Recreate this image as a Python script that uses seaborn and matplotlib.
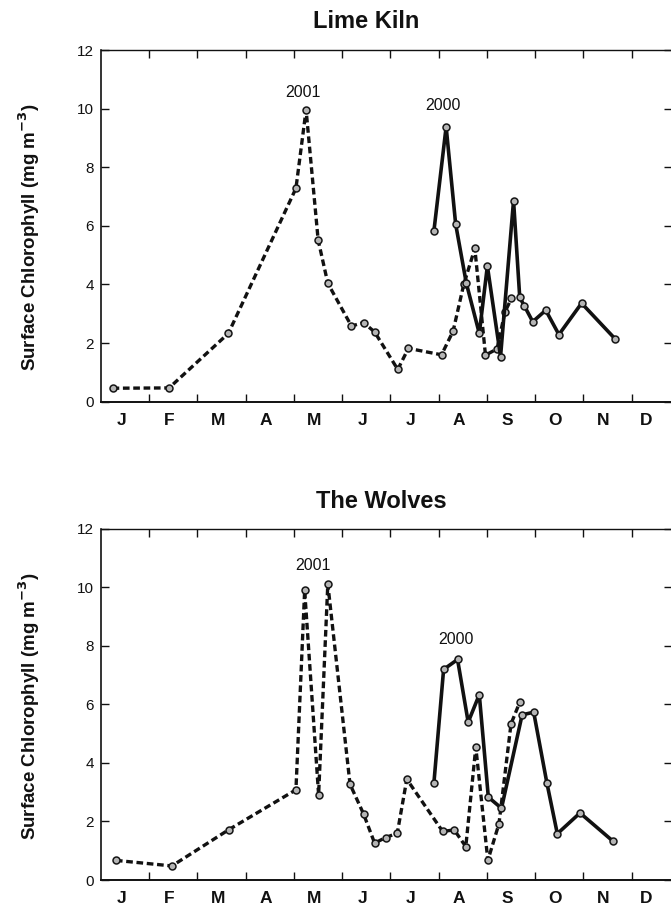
import matplotlib
matplotlib.use("Agg")
import matplotlib.pyplot as plt
import seaborn as sns
import pandas as pd

# ---- data: surface chlorophyll (mg m^-3) by day of year ----
MONTH_LABELS = ["J", "F", "M", "A", "M", "J", "J", "A", "S", "O", "N", "D"]

# Lime Kiln, 2001 season
lk_2001_day = [7.3, 42.9, 80.3, 122.9, 129.3, 136.9, 143.0, 157.9, 165.5, 172.5,
               187.1, 193.8, 214.7, 222.0, 228.7, 235.7, 242.4, 249.7, 254.6, 258.8]
lk_2001_chl = [0.46, 0.47, 2.33, 7.28, 9.96, 5.52, 4.04, 2.58, 2.70, 2.38,
               1.10, 1.82, 1.60, 2.41, 4.00, 5.23, 1.59, 1.80, 3.05, 3.53]

# Lime Kiln, 2000 season
lk_2000_day = [209.9, 217.6, 223.6, 230.3, 238.5, 243.6, 251.9, 260.1, 264.0, 266.8,
               272.2, 280.4, 288.7, 303.0, 324.2]
lk_2000_chl = [5.83, 9.38, 6.06, 4.05, 2.33, 4.63, 1.54, 6.86, 3.56, 3.28,
               2.73, 3.12, 2.29, 3.36, 2.14]

# The Wolves, 2001 season
tw_2001_day = [9.4, 44.7, 80.6, 122.9, 128.4, 137.2, 143.0, 157.0, 165.5, 172.5, 179.5,
               186.8, 192.8, 215.4, 222.7, 230.0, 236.3, 243.9, 250.9, 258.5, 264.0]
tw_2001_chl = [0.67, 0.48, 1.72, 3.08, 9.89, 2.91, 10.11, 3.27, 2.26, 1.26, 1.45,
               1.60, 3.44, 1.66, 1.71, 1.14, 4.54, 0.67, 1.92, 5.33, 6.07]

# The Wolves, 2000 season
tw_2000_day = [209.9, 216.0, 224.8, 231.5, 238.5, 244.2, 252.5, 265.5, 272.8, 281.1,
               287.7, 302.0, 322.7]
tw_2000_chl = [3.32, 7.19, 7.53, 5.39, 6.33, 2.83, 2.45, 5.64, 5.73, 3.32,
               1.58, 2.29, 1.33]

sites = [
    ("Lime Kiln", lk_2001_day, lk_2001_chl, lk_2000_day, lk_2000_chl,
     (127.5, 10.55), (215.3, 10.1)),
    ("The Wolves", tw_2001_day, tw_2001_chl, tw_2000_day, tw_2000_chl,
     (133.8, 10.74), (224.0, 8.21)),
]


def site_frame(d01, c01, d00, c00):
    return pd.concat([
        pd.DataFrame({"day": d01, "chl": c01, "year": "2001"}),
        pd.DataFrame({"day": d00, "chl": c00, "year": "2000"}),
    ], ignore_index=True)


# ---- style ----
sns.set_theme(style="ticks")
plt.rcParams["font.family"] = ["Liberation Sans", "DejaVu Sans"]
plt.rcParams["axes.linewidth"] = 1.0

W, H = 671, 914
fig = plt.figure(figsize=(W / 100, H / 100), dpi=100)
fig.patch.set_facecolor("white")

px_left, px_right = 101, 672
panels = [(50.0, 401.7), (528.6, 880.0)]      # (top, bottom) in pixels
title_pos = [(366, 21), (381, 501)]
ylabel_pos = [(29, 237), (29, 706)]

days_per_month = 365 / 12
month_edges = [k * days_per_month for k in range(1, 12)]
label_pos = [(k + 0.5) * days_per_month - 2.5 for k in range(12)]
label_pos[-1] = 343.5

for i, (name, d01, c01, d00, c00, lab01, lab00) in enumerate(sites):
    top, bot = panels[i]
    ax = fig.add_axes([px_left / W, 1 - bot / H,
                       (px_right - px_left) / W, (bot - top) / H])
    ax.set_facecolor("white")
    df = site_frame(d01, c01, d00, c00)

    marker_kw = dict(marker="o", markersize=5.0, markerfacecolor="#b5b5b5",
                     markeredgecolor="#151515", markeredgewidth=1.1)
    sns.lineplot(data=df[df["year"] == "2001"], x="day", y="chl", ax=ax,
                 color="#111111", lw=2.4, linestyle=(0, (2.0, 1.1)),
                 estimator=None, sort=False, legend=False, **marker_kw)
    sns.lineplot(data=df[df["year"] == "2000"], x="day", y="chl", ax=ax,
                 color="#111111", lw=2.6, linestyle="-",
                 estimator=None, sort=False, legend=False, **marker_kw)

    ax.set_xlim(0, 360)
    ax.set_ylim(0, 12)
    ax.set_xlabel("")
    ax.set_ylabel("")

    # month boundaries as inward ticks; month initials centred between them
    ax.set_xticks(month_edges)
    ax.set_xticklabels([])
    ax.set_xticks(label_pos, minor=True)
    ax.set_xticklabels(MONTH_LABELS, minor=True, fontweight="bold", fontsize=12.5)
    ax.tick_params(axis="x", which="major", direction="in", length=6, width=1.0,
                   top=True, bottom=True, color="#111111")
    ax.tick_params(axis="x", which="minor", length=0, pad=8, labelcolor="#111111")

    ax.set_yticks(range(0, 13, 2))
    ax.set_yticklabels([str(v) for v in range(0, 13, 2)], fontsize=11)
    ax.tick_params(axis="y", direction="in", length=6, width=1.0,
                   left=True, right=True, pad=5, color="#111111",
                   labelcolor="#111111")

    for s in ax.spines.values():
        s.set_visible(True)
        s.set_color("#111111")
    ax.spines["bottom"].set_linewidth(1.4)
    ax.spines["left"].set_linewidth(1.2)

    ax.text(lab01[0], lab01[1], "2001", ha="center", va="center", fontsize=11.5,
            color="#111111")
    ax.text(lab00[0], lab00[1], "2000", ha="center", va="center", fontsize=11.5,
            color="#111111")

    tx, ty = title_pos[i]
    fig.text(tx / W, 1 - ty / H, name, ha="center", va="center",
             fontsize=17, fontweight="bold", color="#111111")
    lx, ly = ylabel_pos[i]
    fig.text(lx / W, 1 - ly / H, "Surface Chlorophyll (mg m$^{\\mathbf{-3}}$)",
             rotation=90, ha="center", va="center", fontsize=13.5,
             fontweight="bold", color="#111111")

fig.savefig("out.png", dpi=100, facecolor="white")
